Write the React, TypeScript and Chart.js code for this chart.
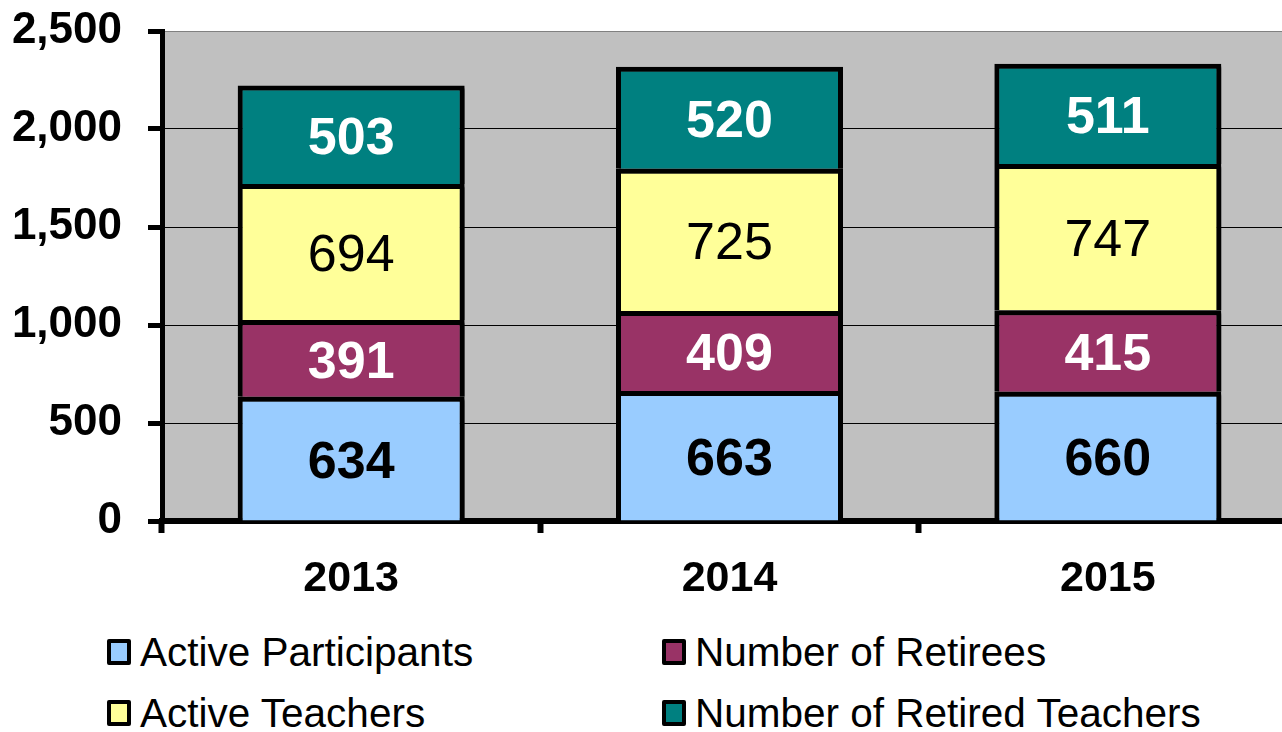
import React, { useEffect, useRef } from "react";
import { Chart, registerables } from "chart.js";

Chart.register(...registerables);

const categories = ["2013", "2014", "2015"];
const activeParticipants = [634, 663, 660];
const numberOfRetirees = [391, 409, 415];
const activeTeachers = [694, 725, 747];
const retiredTeachers = [503, 520, 511];
const yTickValues = [0, 500, 1000, 1500, 2000, 2500];

const seriesNames = [
  "Active Participants",
  "Number of Retirees",
  "Active Teachers",
  "Number of Retired Teachers",
];
const seriesColors = ["#99CCFF", "#993366", "#FFFF99", "#008080"];
const labelColors = ["#000000", "#FFFFFF", "#000000", "#FFFFFF"];
const labelWeights = ["bold", "bold", "normal", "bold"];

const FONT = '"Liberation Sans", Arial, Helvetica, sans-serif';

const bgPlugin = {
  id: "plotBg",
  beforeDraw(chart: any) {
    const { ctx, chartArea } = chart;
    ctx.save();
    ctx.fillStyle = "#C0C0C0";
    ctx.fillRect(chartArea.left, chartArea.top, chartArea.right - chartArea.left, chartArea.bottom - chartArea.top);
    ctx.restore();
  },
  beforeDatasetsDraw(chart: any) {
    const ctx = chart.ctx;
    ctx.save();
    ctx.shadowColor = "rgba(0,0,0,0.55)";
    ctx.shadowOffsetX = 3;
    ctx.shadowOffsetY = 3;
    ctx.shadowBlur = 2;
  },
  afterDatasetsDraw(chart: any) {
    chart.ctx.restore();
  },
};

const labelPlugin = {
  id: "segLabels",
  afterDraw(chart: any) {
    const ctx = chart.ctx;
    chart.data.datasets.forEach((ds: any, di: number) => {
      const meta = chart.getDatasetMeta(di);
      meta.data.forEach((el: any, i: number) => {
        const v = ds.data[i];
        const cy = (el.y + el.base) / 2;
        ctx.save();
        ctx.font = `${labelWeights[di]} 52px ${FONT}`;
        ctx.fillStyle = labelColors[di];
        ctx.textAlign = "center";
        ctx.textBaseline = "middle";
        ctx.fillText(String(v), el.x, cy + 5);
        ctx.restore();
      });
    });
  },
};

export default function App() {
  const ref = useRef<HTMLCanvasElement | null>(null);

  useEffect(() => {
    if (!ref.current) return;
    const seriesData = [activeParticipants, numberOfRetirees, activeTeachers, retiredTeachers];
    const chart = new Chart(ref.current, {
      type: "bar",
      data: {
        labels: categories,
        datasets: seriesData.map((d, i) => ({
          label: seriesNames[i],
          data: d,
          backgroundColor: seriesColors[i],
          borderColor: "#000000",
          borderWidth: 5,
          borderSkipped: "start",
          barPercentage: 0.6,
          categoryPercentage: 1,
          inflateAmount: 0,
        })),
      },
      options: {
        responsive: false,
        animation: false,
        devicePixelRatio: 1,
        layout: { padding: { top: 31, right: 3, left: 0, bottom: 0 } },
        plugins: { legend: { display: false }, tooltip: { enabled: false } },
        scales: {
          x: {
            stacked: true,
            grid: {
              offset: true,
              drawOnChartArea: false,
              drawTicks: true,
              tickLength: 12,
              tickWidth: 6,
              tickColor: "#000000",
            },
            border: { color: "#000000", width: 6 },
            ticks: {
              color: "#000000",
              font: { family: FONT, size: 43, weight: "bold" },
              padding: 20,
            },
            afterFit: (s: any) => {
              s.height = 99;
              s.paddingLeft = 0;
              s.paddingRight = 0;
            },
          },
          y: {
            stacked: true,
            min: yTickValues[0],
            max: yTickValues[yTickValues.length - 1],
            afterBuildTicks: (s: any) => {
              s.ticks = yTickValues.map((v) => ({ value: v }));
            },
            grid: {
              color: (c: any) => (c.tick && c.tick.value === 2500 ? "#808080" : "#000000"),
              lineWidth: 1,
              drawTicks: true,
              tickLength: 14,
              tickWidth: 5,
              tickColor: "#000000",
            },
            border: { color: "#000000", width: 5 },
            ticks: {
              color: "#000000",
              font: { family: FONT, size: 44, weight: "bold" },
              padding: 26,
              callback: (v: any) => Number(v).toLocaleString("en-US"),
            },
            afterFit: (s: any) => {
              s.width = 162;
              s.paddingTop = 0;
              s.paddingBottom = 0;
            },
          },
        },
      },
      plugins: [bgPlugin, labelPlugin],
    });
    return () => chart.destroy();
  }, []);

  const legendPos = [
    { left: 107, top: 639 },
    { left: 662, top: 639 },
    { left: 107, top: 700 },
    { left: 662, top: 700 },
  ];

  return (
    <div
      style={{
        position: "absolute",
        left: 0,
        top: 0,
        width: 1282,
        height: 732,
        overflow: "hidden",
        background: "#FFFFFF",
      }}
    >
      <canvas ref={ref} width={1300} height={620} style={{ position: "absolute", left: 0, top: 0 }} />
      {seriesNames.map((name, i) => (
        <div key={name}>
          <div
            style={{
              position: "absolute",
              left: legendPos[i].left,
              top: legendPos[i].top,
              width: 16,
              height: 18,
              border: "4px solid #000",
              borderRadius: 2,
              background: seriesColors[i],
            }}
          />
          <div
            style={{
              position: "absolute",
              left: legendPos[i].left + 33,
              top: legendPos[i].top - 7,
              fontFamily: FONT,
              fontSize: 40.5,
              lineHeight: "40px",
              color: "#000",
              whiteSpace: "nowrap",
            }}
          >
            {name}
          </div>
        </div>
      ))}
    </div>
  );
}
